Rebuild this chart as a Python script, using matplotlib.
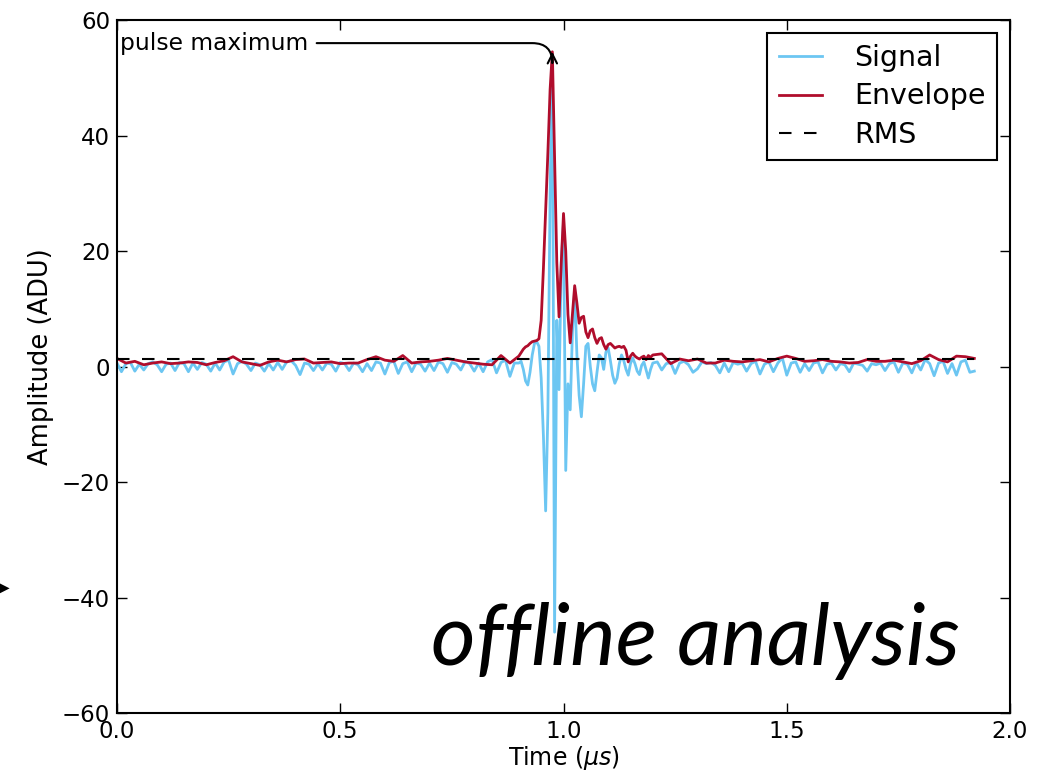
import numpy as np
import matplotlib
matplotlib.use('Agg')
import matplotlib.pyplot as plt

# signal samples (ADU)
# 0.00 - 0.89 us, every 0.01 us
sig_pre = [0.6, -0.9, 0.5, 0.7, -0.8, 0.4, -0.6, 0.5, 0.8, 0.3,
           -0.9, 0.4, 0.6, -0.7, 0.7, 0.5, -0.9, 0.6, -0.5, 0.7,
           0.4, -0.8, 0.6, -0.6, 0.8, 1.1, -1.3, 0.5, 0.9, 0.4,
           -0.7, 0.6, 0.3, -0.8, 0.5, -0.6, 0.7, -0.5, 0.8, 1.0,
           0.2, -1.4, 0.6, 0.4, -0.7, 0.5, -0.6, 0.6, 0.4, -0.8,
           0.7, 0.5, -0.7, 0.6, 0.3, -0.9, 0.5, -0.7, 0.8, 0.6,
           -1.3, 0.7, 0.9, -1.2, 0.5, 0.8, -0.9, 0.6, 0.4, -0.8,
           0.6, -0.7, 0.8, 0.5, -1.0, 0.7, 0.4, -0.6, 0.9, 0.5,
           -0.8, 0.6, -0.9, 0.8, 1.2, -1.1, 0.7, 1.1, -1.7, 0.6]
# 0.900 - 1.195 us, every 0.005 us
sig_peak = [0.6, 0.9, -0.5, -2.5, -3.2, -1.0, 2.0, 4.0, 4.3, 3.5,
            -2.0, -12.0, -25.0, -8.0, 30.0, 54.0, -46.0, 8.0, -4.0, 18.0,
            25.0, -18.0, -3.0, -7.5, 6.0, 13.5, 2.0, -5.0, -8.7, -3.0,
            3.5, 4.0, 0.0, -3.0, -4.2, -1.0, 2.0, 1.5, -0.5, 2.5,
            3.2, 1.0, -1.5, -2.9, -2.0, 0.5, 2.0, 1.0, -0.5, -1.5,
            0.5, 1.5, 0.5, -0.8, -1.4, 0.2, 0.8, -0.6, -2.0, -0.5]
# 1.20 - 1.92 us, every 0.01 us
sig_post = [0.6, 0.8, -0.6, 0.5, 0.7, -1.2, 0.6, 0.9, 0.3, -1.0,
            -0.4, 0.8, 0.5, 0.7, 0.2, -1.1, 0.6, -0.9, 0.7, 0.4,
            0.6, -0.8, 0.5, 0.9, -1.3, 0.4, 0.8, -0.9, 0.6, 1.5,
            -1.5, 0.6, 0.8, -1.0, 0.5, -0.7, 0.6, 0.8, -1.1, 0.4,
            0.6, -0.6, 0.5, 0.3, -0.9, 0.6, 0.4, 0.2, -0.8, 0.5,
            0.3, 0.6, -0.7, 0.5, 0.8, -1.0, 0.6, 0.4, -1.1, 0.7,
            -0.6, 1.2, 0.5, -1.6, 0.6, 0.9, -1.2, 0.5, -1.5, 0.8,
            1.1, -1.0, -0.8]

# envelope, coarser outside the pulse
# 0.00 - 0.88 us, every 0.02 us
env_pre = [1.4, 0.6, 0.9, 0.3, 0.6, 0.8, 0.5, 0.6, 0.8, 0.7,
           0.3, 0.7, 1.0, 1.7, 0.8, 0.5, 0.2, 0.8, 1.1, 0.8,
           1.2, 1.3, 0.6, 0.7, 0.8, 0.5, 0.6, 0.6, 1.2, 1.7,
           1.1, 0.9, 1.9, 0.6, 0.8, 0.9, 1.1, 1.4, 1.1, 0.8,
           0.6, 0.4, 0.3, 1.9, 0.6]
# 0.900 - 1.195 us, every 0.005 us
env_peak = [1.8, 2.4, 3.0, 3.4, 3.6, 4.0, 4.3, 4.4, 4.5, 4.8,
            8.0, 17.0, 27.0, 37.0, 48.0, 54.5, 36.0, 18.0, 8.6, 18.0,
            26.5, 20.0, 9.0, 4.1, 9.0, 14.0, 11.0, 7.5, 8.5, 8.7,
            6.0, 5.0, 6.2, 6.5, 5.0, 4.0, 4.8, 5.0, 3.8, 3.0,
            3.8, 4.0, 3.6, 3.2, 3.4, 3.5, 3.3, 3.5, 2.8, 0.8,
            1.8, 2.3, 1.8, 1.5, 1.3, 1.6, 1.8, 1.2, 1.9, 1.6]
# 1.20 - 1.92 us, every 0.02 us
env_post = [2.0, 2.2, 0.5, 1.3, 1.0, 1.3, 0.6, 0.6, 1.1, 0.9,
            0.8, 1.0, 1.2, 0.8, 1.4, 1.8, 1.4, 0.9, 1.0, 1.2,
            0.9, 0.8, 0.6, 0.7, 1.2, 0.9, 0.9, 1.1, 0.8, 0.5,
            1.0, 2.0, 1.2, 0.8, 1.8, 1.7, 1.4]

rms = 1.25

t_sig = np.concatenate([np.arange(len(sig_pre)) * 0.01,
                        0.9 + np.arange(len(sig_peak)) * 0.005,
                        1.2 + np.arange(len(sig_post)) * 0.01])
signal = np.array(sig_pre + sig_peak + sig_post)
t_env = np.concatenate([np.arange(len(env_pre)) * 0.02,
                        0.9 + np.arange(len(env_peak)) * 0.005,
                        1.2 + np.arange(len(env_post)) * 0.02])
envelope = np.array(env_pre + env_peak + env_post)

fig = plt.figure(figsize=(10.37, 7.73), dpi=100)
ax = fig.add_axes([0.1128, 0.0776, 0.8612, 0.8965])

ax.plot(t_sig, signal, color='#6cc6f2', lw=2, label='Signal')
ax.plot(t_env, envelope, color='#b00d2c', lw=2, label='Envelope')
ax.plot([t_sig[0], t_sig[-1]], [rms, rms], color='k', lw=1.5,
        linestyle=(0, (6, 6)), label='RMS')

imax = np.argmax(envelope)
ax.annotate('pulse maximum', xy=(t_env[imax], envelope[imax]),
            xytext=(0.007, 56), fontsize=16.8, va='center', ha='left',
            arrowprops=dict(arrowstyle='->', color='k', lw=1.5,
                            connectionstyle='angle,angleA=0,angleB=90,rad=20',
                            shrinkA=4, shrinkB=0))

ax.set_xlim(0, 2.0)
ax.set_ylim(-60, 60)
ax.set_xticks([0.0, 0.5, 1.0, 1.5, 2.0])
ax.set_yticks([-60, -40, -20, 0, 20, 40, 60])
ax.tick_params(direction='in', top=True, right=True, length=7, width=1,
               labelsize=16.5, pad=5)
for s in ax.spines.values():
    s.set_linewidth(1.5)
ax.set_xlabel(r'Time ($\mu s$)', fontsize=17, labelpad=1)
ax.set_ylabel('Amplitude (ADU)', fontsize=18.5, labelpad=8)
ax.yaxis.set_label_coords(-0.071, 0.514)

leg = ax.legend(loc='upper right', fontsize=20.5, fancybox=False,
                framealpha=1, edgecolor='k', handlelength=1.5,
                handletextpad=1.15, labelspacing=0.36, borderaxespad=0.45)
leg.get_frame().set_linewidth(1.5)

ax.text(0.944, 0.069, 'offline analysis', transform=ax.transAxes,
        ha='right', va='baseline', fontsize=62, style='italic',
        family='Lato')

fig.text(0.009, 0.2406, '\u25b6', fontsize=10, ha='right', va='center')

fig.savefig('out.png', dpi=100)
